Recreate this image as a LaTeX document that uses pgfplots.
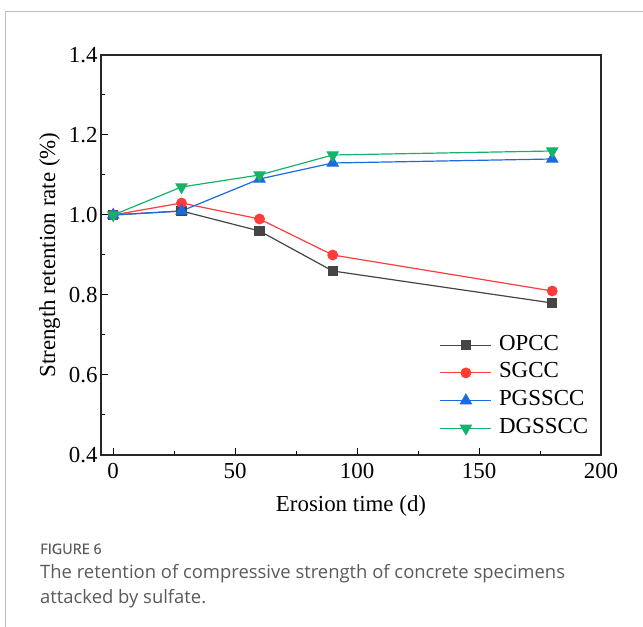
\documentclass[border=0pt]{standalone}
\usepackage{fontspec}
\setmainfont{Liberation Serif}
\newfontfamily\capfont{Open Sans}
\newfontfamily\capfontb[FakeBold=0.6]{Open Sans}
\usepackage{pgfplots}
\pgfplotsset{compat=1.18}

\definecolor{cgray}{HTML}{454545}
\definecolor{cred}{HTML}{FF3B3B}
\definecolor{cblue}{HTML}{1A6AE0}
\definecolor{cgreen}{HTML}{17B26A}
\definecolor{framegray}{HTML}{BDBDBD}
\definecolor{captext}{HTML}{5A5A5A}

\begin{document}
\begin{tikzpicture}[x=1bp,y=1bp]
\useasboundingbox (0,0) rectangle (643,627);
% outer frame (left and top rules only)
\draw[framegray, line width=1bp] (5.5,0) -- (5.5,615) -- (643,615);

\begin{axis}[
  at={(101bp,172bp)}, anchor=south west,
  scale only axis,
  width=500bp, height=400bp,
  xmin=-5, xmax=200, ymin=0.4, ymax=1.4,
  xtick={0,50,100,150,200},
  minor xtick={25,75,125,175},
  ytick={0.4,0.6,0.8,1.0,1.2,1.4},
  minor ytick={0.5,0.7,0.9,1.1,1.3},
  yticklabel style={/pgf/number format/.cd,fixed,fixed zerofill,precision=1},
  /pgf/number format/assume math mode=true,
  xtick pos=bottom, ytick pos=left,
  tick align=inside,
  major tick length=7bp, minor tick length=4bp,
  every tick/.style={black, line width=1bp},
  axis line style={black!85, line width=1.3bp},
  tick label style={font=\fontsize{23}{23}\selectfont},
  xticklabel style={yshift=-5bp},
  label style={font=\fontsize{23}{23}\selectfont},
  xlabel={Erosion time (d)},
  ylabel={Strength retention rate (\%)},
  xlabel style={yshift=-10bp},
  ylabel style={yshift=2bp},
  legend cell align=left,
  legend style={draw=none, fill=none,
    at={(axis cs:132.6,0.705)}, anchor=north west,
    font=\fontsize{23}{23}\selectfont,
    nodes={inner sep=0pt, text height=15bp, text depth=5bp},
    row sep=7.7bp, column sep=7bp},
  legend image code/.code={
    \draw[#1, mark repeat=2, mark phase=2] plot coordinates {(0bp,0bp) (25.5bp,0bp) (51bp,0bp)};},
  every axis plot/.append style={line width=1.2bp},
]
\addplot[cgray, mark=square*, mark size=4.6bp, mark options={fill=cgray}]
  coordinates {(0,1.00) (28,1.01) (60,0.96) (90,0.86) (180,0.78)};
\addlegendentry{OPCC}
\addplot[cred, mark=*, mark size=4.8bp, mark options={fill=cred}]
  coordinates {(0,1.00) (28,1.03) (60,0.99) (90,0.90) (180,0.81)};
\addlegendentry{SGCC}
\addplot[cblue, mark=triangle*, mark size=6.2bp, mark options={fill=cblue}]
  coordinates {(0,1.00) (28,1.01) (60,1.09) (90,1.13) (180,1.14)};
\addlegendentry{PGSSCC}
\addplot[cgreen, mark=triangle*, mark size=6.2bp, mark options={fill=cgreen, rotate=180}]
  coordinates {(0,1.00) (28,1.07) (60,1.10) (90,1.15) (180,1.16)};
\addlegendentry{DGSSCC}
\end{axis}

% caption
\node[anchor=base west, inner sep=0pt, text=captext] at (40,73)
  {\capfontb\fontsize{14.5}{16}\selectfont FIGURE 6};
\node[anchor=base west, inner sep=0pt, text=captext] at (40,48)
  {\capfont\fontsize{18.5}{20}\selectfont The retention of compressive strength of concrete specimens};
\node[anchor=base west, inner sep=0pt, text=captext] at (40,23)
  {\capfont\fontsize{18.5}{20}\selectfont attacked by sulfate.};
\end{tikzpicture}
\end{document}
